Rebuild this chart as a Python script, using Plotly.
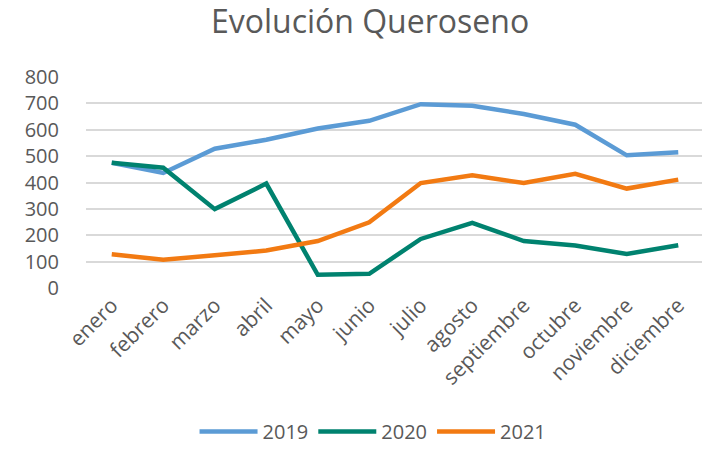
import plotly.graph_objects as go

# datos mensuales
meses = ["enero", "febrero", "marzo", "abril", "mayo", "junio", "julio",
         "agosto", "septiembre", "octubre", "noviembre", "diciembre"]
v2019 = [475, 436, 528, 562, 605, 634, 697, 691, 660, 619, 503, 515]
v2020 = [475, 456, 299, 396, 50, 54, 186, 247, 178, 161, 129, 162]
v2021 = [128, 107, 124, 142, 178, 249, 398, 427, 398, 433, 377, 411]

series = [("2019", v2019, "#5B9BD5"),
          ("2020", v2020, "#00826F"),
          ("2021", v2021, "#F27A12")]

fig = go.Figure()
for name, vals, color in series:
    fig.add_trace(go.Scatter(x=meses, y=vals, name=name, mode="lines",
                             line=dict(color=color, width=4.5)))

# the page body adds an 8px offset, so the figure is sized to fit the window
fig.update_layout(
    width=702, height=443,
    paper_bgcolor="white", plot_bgcolor="white",
    margin=dict(l=78, r=6, t=69, b=163),
    font=dict(family="Open Sans", color="#595959", size=20),
    title=dict(text="Evolución Queroseno", x=0.5157, xanchor="center",
               y=0.968, yanchor="middle", font=dict(size=32, color="#595959")),
    showlegend=True,
    legend=dict(orientation="h", xref="container", yref="container",
                x=0.52, xanchor="center", y=0, yanchor="bottom",
                itemwidth=58, font=dict(size=20, color="#595959")),
)
fig.update_xaxes(tickangle=-45, showgrid=False, showline=False, ticks="",
                 range=[-0.5, 11.5], automargin=False, tickfont=dict(size=21))
fig.update_yaxes(range=[0, 800], dtick=100, showgrid=True, gridcolor="#D9D9D9",
                 gridwidth=1.5, zeroline=False, tickfont=dict(size=20),
                 automargin=False, ticklabelstandoff=26)

fig.write_html("out.html")
